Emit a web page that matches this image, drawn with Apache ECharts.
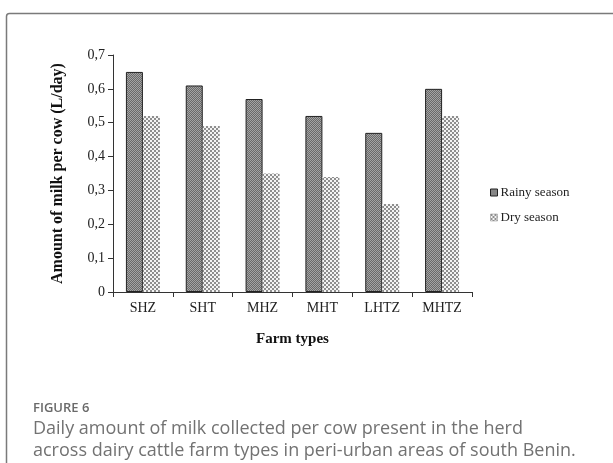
<!DOCTYPE html>
<html><head><meta charset="utf-8">
<script src="https://cdn.jsdelivr.net/npm/echarts@6/dist/echarts.min.js"></script>
<style>html,body{margin:0;padding:0;background:#fff}#c{width:613px;height:463px}</style>
</head><body><div id="c"></div>
<script>
const categories = ['SHZ','SHT','MHZ','MHT','LHTZ','MHTZ'];
const rainy = [0.65,0.61,0.57,0.52,0.47,0.60];
const dry = [0.52,0.49,0.35,0.34,0.26,0.52];
const seriesNames = ['Rainy season','Dry season'];
const yTicks = ['0','0,1','0,2','0,3','0,4','0,5','0,6','0,7'];

function pattern(a,b,size){
  const c=document.createElement('canvas');c.width=size*2;c.height=size*2;
  const x=c.getContext('2d');
  x.fillStyle=a;x.fillRect(0,0,size*2,size*2);
  x.fillStyle=b;x.fillRect(0,0,size,size);x.fillRect(size,size,size,size);
  return c;
}
const rainyPat={image:pattern('#6a6a6a','#a4a4a4',1),repeat:'repeat'};
const dryPat={image:pattern('#f4f4f4','#8e8e8e',2),repeat:'repeat'};
const serif='"Liberation Serif","DejaVu Serif",serif';
const sans='"Open Sans","Noto Sans",sans-serif';
const chart=echarts.init(document.getElementById('c'));
chart.setOption({
  animation:false,
  grid:{left:113,right:141,top:55,bottom:171,containLabel:false},
  legend:{orient:'vertical',left:485,top:181,itemWidth:7,itemHeight:7,itemGap:12,
    textStyle:{fontFamily:serif,fontSize:13,color:'#222',padding:[0,0,0,-2]},
    data:[{name:seriesNames[0],icon:'rect',itemStyle:{color:rainyPat,borderColor:'#222',borderWidth:1}},
          {name:seriesNames[1],icon:'rect',itemStyle:{color:dryPat,borderColor:'#888',borderWidth:0.5}}]},
  xAxis:{type:'category',data:categories,
    name:'Farm types',nameLocation:'middle',nameGap:40,
    nameTextStyle:{fontFamily:serif,fontSize:15,fontWeight:'bold',color:'#111'},
    axisLine:{lineStyle:{color:'#333',width:1}},
    axisTick:{show:true,length:5,lineStyle:{color:'#333'}},
    axisLabel:{fontFamily:serif,fontSize:14,color:'#222',margin:9}},
  yAxis:{type:'value',min:0,max:0.7,interval:0.1,
    name:'Amount of milk per cow (L/day)',nameLocation:'middle',nameGap:47,
    nameTextStyle:{fontFamily:serif,fontSize:16,fontWeight:'bold',color:'#111'},
    axisLine:{show:true,lineStyle:{color:'#333',width:1}},
    axisTick:{show:true,length:5,lineStyle:{color:'#333'}},
    splitLine:{show:false},
    axisLabel:{fontFamily:serif,fontSize:14,color:'#222',margin:8,
      formatter:(v,i)=>yTicks[i]}},
  series:[
    {name:seriesNames[0],type:'bar',data:rainy,barWidth:17,barGap:'0%',
      itemStyle:{color:rainyPat,borderColor:'#222',borderWidth:1}},
    {name:seriesNames[1],type:'bar',data:dry,barWidth:17,barGap:'0%',
      itemStyle:{color:dryPat,borderWidth:0}}
  ],
  graphic:[
    {type:'rect',shape:{x:6.5,y:13.5,width:640,height:500,r:3},style:{fill:'none',stroke:'#7a7a7a',lineWidth:1.5},silent:true},
    {type:'text',left:33,top:402,style:{text:'FIGURE 6',font:'600 13px '+sans,fill:'#6a6a6a'}},
    {type:'text',left:33,top:420,style:{text:'Daily amount of milk collected per cow present in the herd',font:'18px '+sans,fill:'#727272'}},
    {type:'text',left:33,top:442,style:{text:'across dairy cattle farm types in peri-urban areas of south Benin.',font:'18px '+sans,fill:'#727272'}}
  ]
});
</script></body></html>
